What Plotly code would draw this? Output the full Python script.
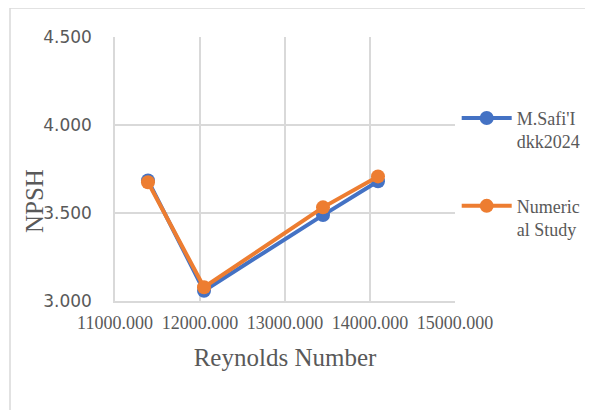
import plotly.graph_objects as go

reynolds = [11388, 12047, 13447, 14094]
npsh_safii = [3.685, 3.058, 3.488, 3.680]
npsh_numeric = [3.675, 3.078, 3.532, 3.708]
series_names = ["M.Safi'I<br>dkk2024", "Numeric<br>al Study"]
colors = ["#4472C4", "#ED7D31"]

fig = go.Figure()
for i, (vals, name, col) in enumerate(zip([npsh_safii, npsh_numeric], series_names, colors)):
    fig.add_trace(go.Scatter(
        x=reynolds, y=vals, name=name, mode="lines+markers",
        line=dict(color=col, width=4), marker=dict(color=col, size=14),
        legendgroup="g%d" % i,
    ))

grid = "#d9d9d9"
PW, PH = 340, 264
fig.update_layout(
    width=593, height=410,
    margin=dict(l=107, r=593 - 107 - PW, t=29, b=410 - 29 - PH, autoexpand=False),
    paper_bgcolor="white", plot_bgcolor="white",
    showlegend=True,
    legend=dict(x=1.005, xanchor="left", y=0.762, yanchor="top",
                font=dict(family="Liberation Serif", size=18, color="#595959"),
                tracegroupgap=38, valign="top", itemwidth=50),
    xaxis=dict(range=[11000, 15000], dtick=1000, tick0=11000, tickformat=".3f",
               showgrid=True, gridcolor=grid, gridwidth=1.5, automargin=False,
               showline=True, linecolor=grid, linewidth=1.5, zeroline=False,
               tickfont=dict(family="Liberation Serif", size=18, color="#595959"),
               ticklabelstandoff=5,
               title=dict(text="Reynolds Number", standoff=16,
                          font=dict(family="Liberation Serif", size=25, color="#595959"))),
    yaxis=dict(range=[3, 4.5], dtick=0.5, tick0=3, tickformat=".3f",
               showgrid=True, gridcolor=grid, gridwidth=1.5, automargin=False,
               showline=True, linecolor=grid, linewidth=1.5, zeroline=False,
               tickfont=dict(family="DejaVu Sans", size=17, color="#595959"),
               ticklabelstandoff=18),
    annotations=[dict(text="NPSH", xref="paper", yref="paper",
                      x=(34 - 115) / PW, y=(301 - 201) / PH, xanchor="center", yanchor="middle",
                      textangle=-90, showarrow=False,
                      font=dict(family="Liberation Serif", size=25, color="#595959"))],
    shapes=[dict(type="rect", xref="paper", yref="paper",
                 x0=(10 - 115) / PW, x1=(620 - 115) / PW,
                 y0=(301 - 440) / PH, y1=(301 - 8) / PH,
                 line=dict(color=grid, width=1.5), layer="below")],
)
fig.write_html("out.html")
